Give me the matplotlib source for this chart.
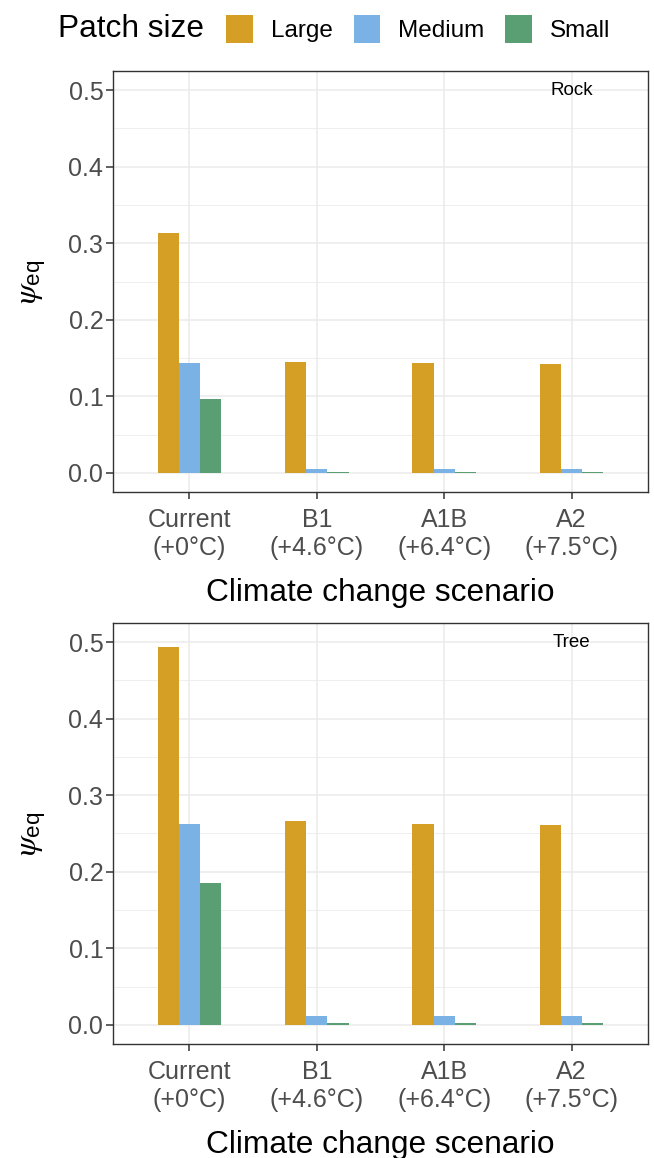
import numpy as np
import matplotlib
matplotlib.use("Agg")
import matplotlib.pyplot as plt
from matplotlib.patches import Patch

plt.rcParams['font.family'] = ['Liberation Sans', 'DejaVu Sans']
plt.rcParams['mathtext.fontset'] = 'custom'
plt.rcParams['mathtext.rm'] = 'Liberation Sans'
plt.rcParams['mathtext.it'] = 'STIXGeneral:italic'

# data
scenarios = ["Current\n(+0°C)", "B1\n(+4.6°C)", "A1B\n(+6.4°C)", "A2\n(+7.5°C)"]
sizes = ["Large", "Medium", "Small"]
colors = ["#D49F24", "#7AB2E6", "#5A9E74"]

rock_large = [0.313, 0.145, 0.143, 0.1425]
rock_medium = [0.143, 0.0047, 0.0047, 0.0047]
rock_small = [0.096, 0.0015, 0.0015, 0.0015]

tree_large = [0.493, 0.266, 0.262, 0.2615]
tree_medium = [0.263, 0.0113, 0.0113, 0.0113]
tree_small = [0.185, 0.003, 0.003, 0.003]

panels = [("Rock", [rock_large, rock_medium, rock_small]),
          ("Tree", [tree_large, tree_medium, tree_small])]

W, H = 654, 1158
fig = plt.figure(figsize=(W / 100, H / 100), dpi=100)

# axes boxes in pixels: (left, top, right, bottom)
boxes = [(113, 71, 648, 492), (113, 623, 648, 1044)]

grid_col = "#EBEBEB"
x = np.arange(len(scenarios))
bw = 0.5 / 3

for (label, series), (l, t, r, b) in zip(panels, boxes):
    ax = fig.add_axes([l / W, 1 - b / H, (r - l) / W, (b - t) / H])
    for i, (vals, c) in enumerate(zip(series, colors)):
        ax.bar(x + (i - 1) * bw, vals, width=bw, color=c, zorder=3)
    ax.set_xlim(-0.6, len(scenarios) - 0.4)
    ax.set_ylim(-0.025, 0.525)
    ax.set_yticks([0, 0.1, 0.2, 0.3, 0.4, 0.5])
    ax.set_yticks(np.arange(0.05, 0.5, 0.1), minor=True)
    ax.set_yticklabels(["0.0", "0.1", "0.2", "0.3", "0.4", "0.5"])
    ax.set_xticks(x)
    ax.set_xticklabels(scenarios, linespacing=1.22)
    ax.grid(True, which="major", color=grid_col, lw=1.1, zorder=0)
    ax.grid(True, which="minor", axis="y", color=grid_col, lw=0.55, zorder=0)
    ax.set_axisbelow(True)
    ax.tick_params(which="major", length=5, width=1.1, color="#333333",
                   labelsize=18, labelcolor="#4D4D4D", pad=2)
    ax.tick_params(axis="x", pad=6.5)
    ax.tick_params(which="minor", length=0)
    for s in ax.spines.values():
        s.set_color("#333333")
        s.set_linewidth(1.0)
    ax.set_xlabel("Climate change scenario", fontsize=22.8, labelpad=13)
    ax.set_ylabel(r"$\psi_{\mathrm{eq}}$", fontsize=23, labelpad=15)
    ax.text(3, 0.5, label, ha="center", va="center", fontsize=13.5)

# legend across the top
fig.text(58 / W, 1 - 29 / H, "Patch size", fontsize=22.8, va="center", ha="left")
handles = [Patch(facecolor=c, edgecolor="none") for c in colors]
fig.legend(handles, sizes, ncol=3, loc="center left",
           bbox_to_anchor=(226 / W, 1 - 29 / H), frameon=False,
           fontsize=17.5, handlelength=1.11, handleheight=1.4,
           handletextpad=0.74, columnspacing=0.85, borderaxespad=0,
           borderpad=0)

fig.savefig("out.png", dpi=100)
